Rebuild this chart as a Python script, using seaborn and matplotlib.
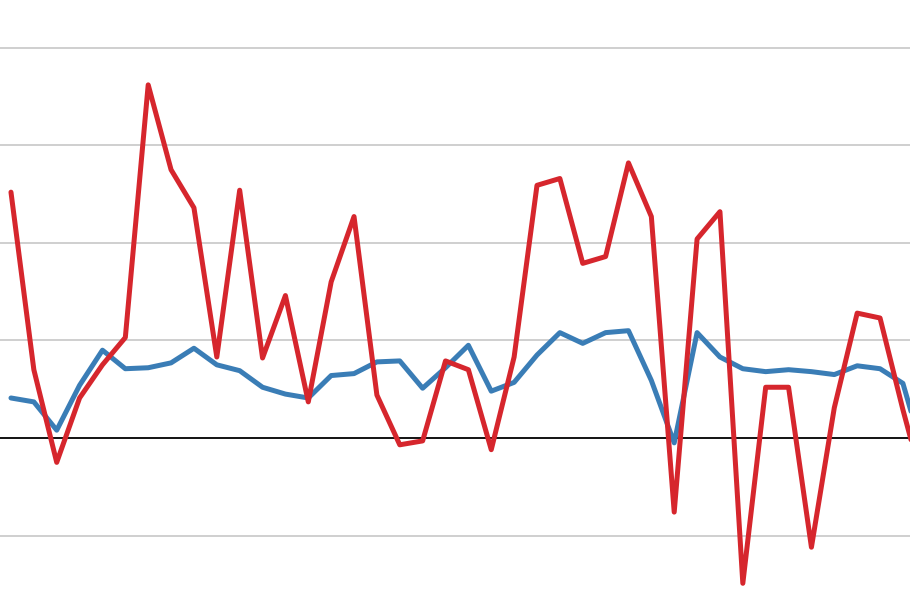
import matplotlib
matplotlib.use("Agg")
import matplotlib.pyplot as plt
import seaborn as sns
import numpy as np
import pandas as pd

red_values = [2.52, 0.70, -0.25, 0.41, 0.75, 1.03, 3.62, 2.75, 2.36, 0.83,
              2.54, 0.82, 1.46, 0.37, 1.60, 2.27, 0.44, -0.07, -0.03, 0.79,
              0.70, -0.12, 0.83, 2.59, 2.66, 1.79, 1.86, 2.82, 2.27, -0.76,
              2.04, 2.32, -1.49, 0.52, 0.52, -1.12, 0.31, 1.28, 1.23, 0.29,
              -0.58]
blue_values = [0.41, 0.37, 0.08, 0.54, 0.90, 0.71, 0.72, 0.77, 0.92, 0.75,
               0.69, 0.52, 0.45, 0.41, 0.64, 0.66, 0.78, 0.79, 0.51, 0.72,
               0.95, 0.48, 0.57, 0.85, 1.08, 0.97, 1.08, 1.10, 0.59, -0.05,
               1.08, 0.83, 0.71, 0.68, 0.70, 0.68, 0.65, 0.74, 0.71, 0.56,
               -0.25]
periods = list(range(len(red_values)))
grid_levels = [-1, 1, 2, 3, 4]

df = pd.DataFrame({"period": periods, "red": red_values, "blue": blue_values})

sns.set_theme(style="white")
fig = plt.figure(figsize=(9.10, 5.96), dpi=100)
ax = fig.add_axes([0, 0, 1, 1])

for g in grid_levels:
    ax.axhline(g, color="#cfcfcf", lw=1.4, zorder=0)
ax.axhline(0, color="black", lw=1.3, zorder=1)

sns.lineplot(data=df, x="period", y="blue", ax=ax, color="#3a7db6", lw=3.6, zorder=2)
sns.lineplot(data=df, x="period", y="red", ax=ax, color="#d6262d", lw=3.6, zorder=3)

ax.set_xlim(-0.48, 39.31)
ax.set_ylim(-1.62, 4.49)
ax.set_axis_off()
fig.savefig("out.png", dpi=100, facecolor="white")
